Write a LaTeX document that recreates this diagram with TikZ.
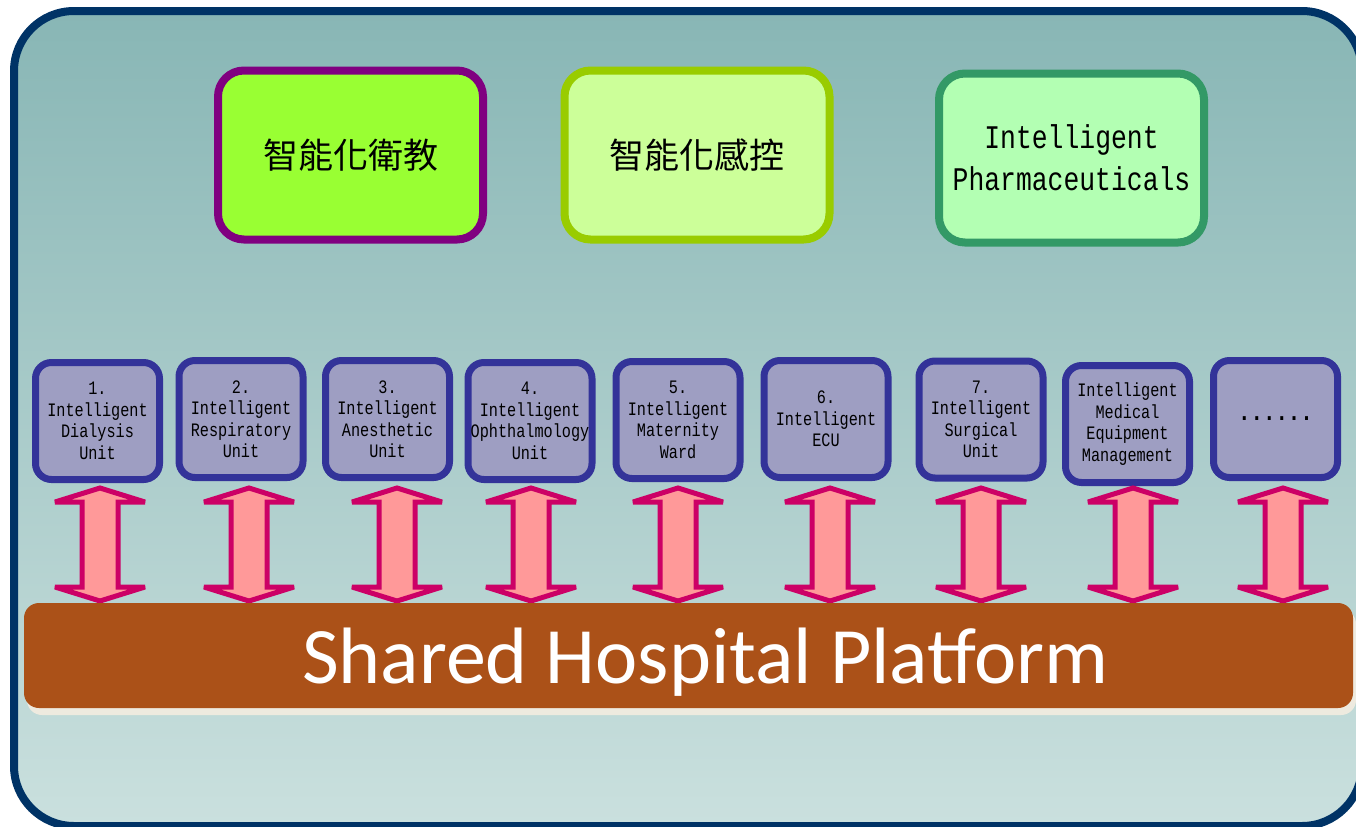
\documentclass[tikz,border=0pt]{standalone}
\usepackage{fontspec}
\newfontfamily\zhfont{Noto Sans CJK TC}
\newfontfamily\unitfont[FakeStretch=0.8]{Liberation Mono}
\newfontfamily\platfont{Carlito}
\definecolor{frameblue}{HTML}{003366}
\definecolor{bgtop}{HTML}{88B6B5}
\definecolor{bgbottom}{HTML}{CAE0DE}
\definecolor{eduline}{HTML}{800080}
\definecolor{edufill}{HTML}{99FF33}
\definecolor{ctrlline}{HTML}{99CC00}
\definecolor{ctrlfill}{HTML}{CCFF99}
\definecolor{pharmline}{HTML}{339966}
\definecolor{pharmfill}{HTML}{B3FFB3}
\definecolor{unitline}{HTML}{333399}
\definecolor{unitfill}{HTML}{9E9EC2}
\definecolor{arrowline}{HTML}{CC0066}
\definecolor{arrowfill}{HTML}{FF9999}
\definecolor{platbrown}{HTML}{AB5118}
\definecolor{platshadow}{HTML}{EEEADF}

\begin{document}
\begin{tikzpicture}[x=0.5pt,y=-0.5pt,
  topbox/.style={draw,line width=4pt,rounded corners=13pt,minimum width=132.5pt,minimum height=84.5pt,inner sep=0pt,align=center},
  unit/.style={draw=unitline,fill=unitfill,line width=3.5pt,rounded corners=8pt,minimum width=62pt,minimum height=58.5pt,inner sep=0pt,align=center,font=\unitfont\fontsize{9.5}{10.75}\selectfont},
  updown/.style={draw=arrowline,fill=arrowfill,line width=2.5pt,line join=miter,miter limit=3}]
   \useasboundingbox (0,0) rectangle (1356,826);

   % frame
   \draw[frameblue,line width=4pt,rounded corners=30pt,top color=bgtop,bottom color=bgbottom] (14,11) rectangle (1362,826);

   % top row
   \node[topbox,draw=eduline,fill=edufill,font=\zhfont\fontsize{17.5}{20}\selectfont] (edu) at (350.5,155) {智能化衛教};
   \node[topbox,draw=ctrlline,fill=ctrlfill,font=\zhfont\fontsize{17.5}{20}\selectfont] (ctrl) at (697,155) {智能化感控};
   \node[topbox,draw=pharmline,fill=pharmfill,font=\unitfont\fontsize{16.5}{21}\selectfont] (pharm) at (1071.5,158) {Intelligent\\Pharmaceuticals};

   % units
   \node[unit] (u1) at (97.5,421) {1.\\Intelligent\\Dialysis\\Unit};
   \node[unit] (u2) at (241,419) {2.\\Intelligent\\Respiratory\\Unit};
   \node[unit] (u3) at (387.5,419) {3.\\Intelligent\\Anesthetic\\Unit};
   \node[unit] (u4) at (530,421) {4.\\Intelligent\\Ophthalmology\\Unit};
   \node[unit] (u5) at (678,420) {5.\\Intelligent\\Maternity\\Ward};
   \node[unit] (u6) at (826,419) {6.\\Intelligent\\ECU};
   \node[unit] (u7) at (981,419.5) {7.\\Intelligent\\Surgical\\Unit};
   \node[unit] (u8) at (1127.5,424) {Intelligent\\Medical\\Equipment\\Management};
   \node[unit,font=\unitfont\bfseries\fontsize{13}{14}\selectfont] (u9) at (1275.5,419) {......};

   % arrows
   \foreach \x in {100,249,397,531,678,830,981,1133,1283}
     \draw[updown] (\x,488) -- ++(45,14) -- ++(-27,0) -- ++(0,85) -- ++(27,0) -- ++(-45,14) -- ++(-45,-14) -- ++(27,0) -- ++(0,-85) -- ++(-27,0) -- cycle;

   % platform
   \fill[platshadow,rounded corners=7.5pt] (27,609) rectangle (1356,715);
   \node[fill=platbrown,rounded corners=7.5pt,minimum width=664.5pt,minimum height=52.5pt,inner sep=0pt] (plat) at (688.5,655.5) {};
   \node[text=white,font=\platfont\fontsize{40}{48}\selectfont,anchor=base,inner sep=0pt] (plattext) at (705.5,683) {Shared Hospital Platform};

\end{tikzpicture}
\end{document}
